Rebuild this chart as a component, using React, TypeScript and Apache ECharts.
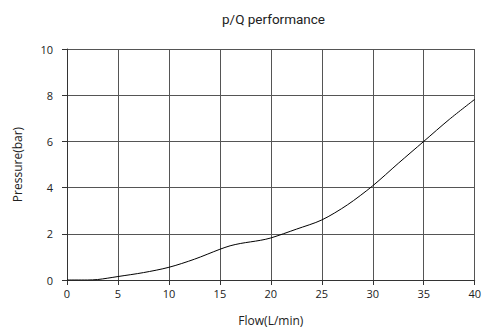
import React, { useEffect, useRef } from "react";
import * as echarts from "echarts";

const flow = [0, 2, 3, 4, 5, 7.5, 10, 12.5, 15, 16, 17, 18, 19, 20, 22.5, 25, 27.5, 30, 32.5, 35, 37.5, 40];
const pressure = [0, 0, 0.02, 0.08, 0.15, 0.32, 0.55, 0.9, 1.33, 1.48, 1.58, 1.65, 1.72, 1.82, 2.2, 2.6, 3.25, 4.08, 5.05, 6.0, 6.95, 7.82];
const title = "p/Q performance";
const xName = "Flow(L/min)";
const yName = "Pressure(bar)";

export default function App() {
  const ref = useRef<HTMLDivElement>(null);
  useEffect(() => {
    if (!ref.current) return;
    const chart = echarts.init(ref.current, undefined, { renderer: "svg" });
    const lbl = { color: "#222", fontSize: 11, fontFamily: "Open Sans" };
    chart.setOption({
      animation: false,
      backgroundColor: "#fff",
      title: {
        text: title,
        left: 217,
        top: 7,
        textStyle: { fontSize: 13.5, fontWeight: "normal", color: "#222", fontFamily: "Roboto" },
      },
      grid: { left: 67, right: 7, top: 49, bottom: 56 },
      xAxis: {
        type: "value",
        min: 0,
        max: 40,
        interval: 5,
        name: xName,
        nameLocation: "middle",
        nameGap: 34,
        nameTextStyle: { ...lbl, fontSize: 12 },
        axisLine: { show: true, lineStyle: { color: "#333", width: 1 } },
        axisTick: { show: true, length: 5, lineStyle: { color: "#333" } },
        axisLabel: { ...lbl, margin: 8 },
        splitLine: { show: true, lineStyle: { color: "#555", width: 1 } },
      },
      yAxis: {
        type: "value",
        min: 0,
        max: 10,
        interval: 2,
        name: yName,
        nameLocation: "middle",
        nameGap: 44,
        nameTextStyle: { ...lbl, fontSize: 12 },
        axisLine: { show: true, lineStyle: { color: "#333", width: 1 } },
        axisTick: { show: true, length: 5, lineStyle: { color: "#333" } },
        axisLabel: { ...lbl, margin: 14 },
        splitLine: { show: true, lineStyle: { color: "#555", width: 1 } },
      },
      series: [
        {
          type: "line",
          data: flow.map((q, i) => [q, pressure[i]]),
          smooth: 0.3,
          showSymbol: false,
          lineStyle: { color: "#000", width: 1 },
        },
      ],
    });
    return () => chart.dispose();
  }, []);
  return <div ref={ref} style={{ width: 484, height: 336, position: "fixed", left: 0, top: 0 }} />;
}
